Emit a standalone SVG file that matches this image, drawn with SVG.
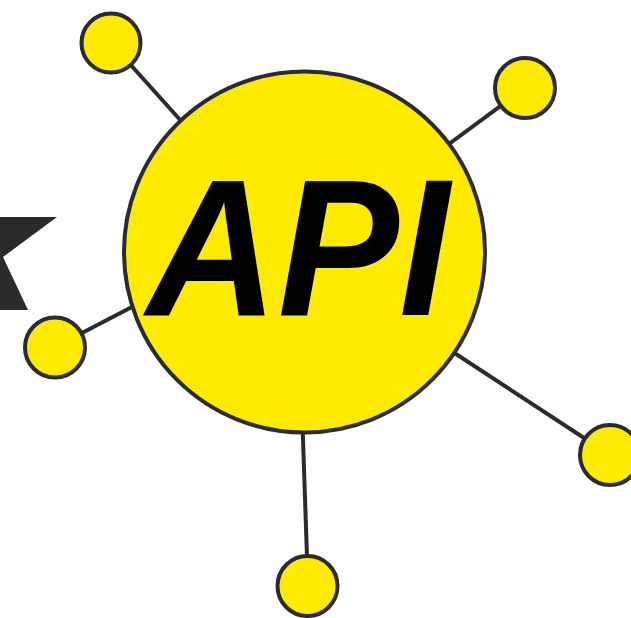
<svg xmlns="http://www.w3.org/2000/svg" width="631" height="618" viewBox="0 0 631 618">
<style>
.c{fill:#FFEB00;stroke:#2b2b2b;stroke-width:4}
.l{stroke:#2b2b2b;stroke-width:4;fill:none}
.t{font-family:"Liberation Sans",Arial,sans-serif;font-weight:bold;font-style:italic;font-size:194px;fill:#000}
</style>
<rect width="631" height="618" fill="#fff"/>
<polygon points="0,217 57,217 3,257 28,310 0,310" fill="#2b2b2b"/>
<g id="connectors">
<line class="l" x1="111" y1="43" x2="200" y2="142"/>
<line class="l" x1="525" y1="88" x2="430" y2="158"/>
<line class="l" x1="55" y1="347" x2="155" y2="295"/>
<line class="l" x1="610" y1="455" x2="430" y2="337"/>
<line class="l" x1="308" y1="586" x2="302" y2="410"/>
</g>
<g id="api">
<circle class="c" cx="304.5" cy="252" r="180.5"/>
<text class="t" x="298" y="315" text-anchor="middle" textLength="303" lengthAdjust="spacingAndGlyphs">API</text>
</g>
<g id="n1"><circle class="c" cx="111" cy="43" r="29.5"/></g>
<g id="n2"><circle class="c" cx="525" cy="88" r="30"/></g>
<g id="n3"><circle class="c" cx="55" cy="347.5" r="30"/></g>
<g id="n4"><circle class="c" cx="610" cy="455" r="30"/></g>
<g id="n5"><circle class="c" cx="307.5" cy="586" r="30"/></g>
</svg>
